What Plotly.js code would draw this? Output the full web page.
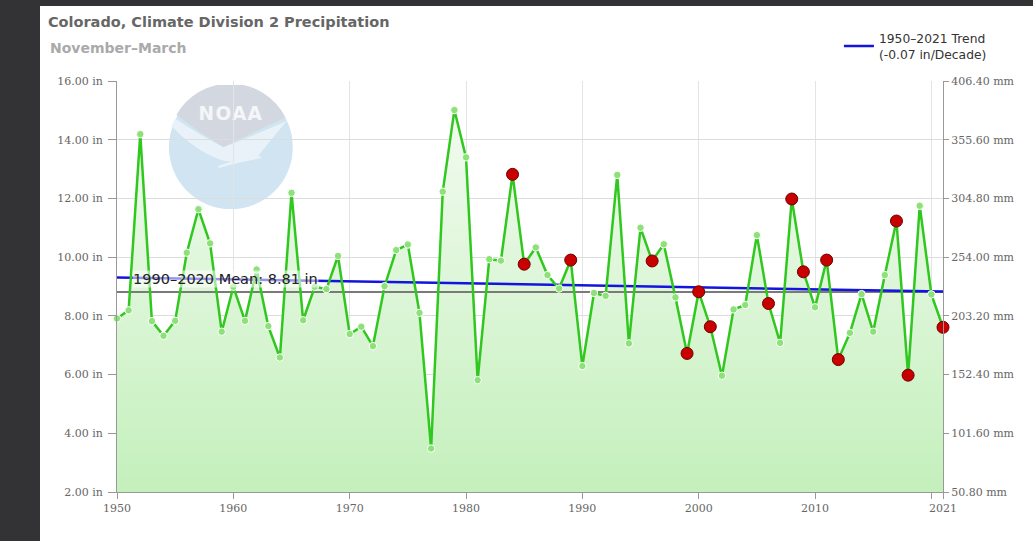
<!DOCTYPE html>
<html>
<head>
<meta charset="utf-8">
<script src="https://cdn.plot.ly/plotly-3.0.1.min.js"></script>
<style>
  html, body { margin: 0; padding: 0; background: #333335; width: 1033px; height: 541px; overflow: hidden; }
  #chart { position: absolute; left: 40px; top: 6px; width: 993px; height: 535px; background: #fff; }
</style>
</head>
<body>
<div id="chart"></div>
<script>
// ---- Data ----
const years = [1950,1951,1952,1953,1954,1955,1956,1957,1958,1959,
               1960,1961,1962,1963,1964,1965,1966,1967,1968,1969,
               1970,1971,1972,1973,1974,1975,1976,1977,1978,1979,
               1980,1981,1982,1983,1984,1985,1986,1987,1988,1989,
               1990,1991,1992,1993,1994,1995,1996,1997,1998,1999,
               2000,2001,2002,2003,2004,2005,2006,2007,2008,2009,
               2010,2011,2012,2013,2014,2015,2016,2017,2018,2019,
               2020,2021];
const precipIn = [7.91,8.19,14.19,7.82,7.32,7.83,10.15,11.63,10.47,7.46,
                  8.99,7.83,9.58,7.65,6.58,12.19,7.85,8.99,8.91,10.04,
                  7.38,7.63,6.97,9.01,10.24,10.43,8.10,3.48,12.23,15.01,
                  13.40,5.81,9.93,9.88,12.82,9.76,10.33,9.39,8.93,9.90,
                  6.29,8.78,8.68,12.80,7.06,11.00,9.87,10.44,8.63,6.72,
                  8.82,7.63,5.96,8.22,8.37,10.75,8.42,7.08,11.98,9.50,
                  8.29,9.90,6.51,7.42,8.74,7.46,9.39,11.23,5.98,11.75,
                  8.73,7.61];
const highlightYears = [1984,1985,1989,1996,1999,2000,2001,2006,2008,2009,2011,2012,2017,2018,2021];
const meanValue = 8.81;
const meanYears = [1950, 2021];
const trendYears = [1950, 2021];
const trendValues = [9.31, 8.83];
const xTickVals = [1950,1960,1970,1980,1990,2000,2010,2020,2021];
const xTickText = ['1950','1960','1970','1980','1990','2000','2010','','2021'];
const yTickVals = [2,4,6,8,10,12,14,16];
const titleText = 'Colorado, Climate Division 2 Precipitation';
const subtitleText = 'November\u2013March';
const trendLabel = '1950\u20132021 Trend<br>(-0.07 in/Decade)';
const meanLabel = '1990\u20132020 Mean: 8.81 in';
const MM_PER_IN = 25.4;

// ---- Derived ----
const hlX = highlightYears;
const hlY = highlightYears.map(y => precipIn[years.indexOf(y)]);
const yTickText = yTickVals.map(v => v.toFixed(2) + ' in');
const mmTickVals = yTickVals.map(v => v * MM_PER_IN);
const mmTickText = mmTickVals.map(v => v.toFixed(2) + ' mm');

const noaaSvg = '<svg xmlns="http://www.w3.org/2000/svg" viewBox="0 0 100 100">' +
  '<circle cx="50" cy="50" r="50" fill="#d0e5f1"/>' +
  '<path d="M6,24 A50,50 0 0 1 94,26 Q70,37 44,50 Q24,38 6,24 Z" fill="#d3d8e0"/>' +
  '<path d="M2,33 Q22,54 44,61 Q60,64 72,57 L95,29 Q70,40 44,50 Q24,40 5,27 Z" fill="#e9f2f8"/>' +
  '<path d="M40,66 Q55,61 74,58" stroke="#e9f2f8" stroke-width="2" fill="none"/>' +
  '<text x="50" y="28" font-family="DejaVu Sans" font-weight="bold" font-size="15" fill="#f4f6f9" text-anchor="middle" letter-spacing="1">NOAA</text>' +
  '</svg>';
const noaaSrc = 'data:image/svg+xml;charset=utf-8,' + encodeURIComponent(noaaSvg);

const traces = [
  { // shaded area under the series
    x: years, y: precipIn, type: 'scatter', mode: 'none',
    fill: 'tozeroy',
    fillgradient: { type: 'vertical', start: 2, stop: 15,
      colorscale: [[0, 'rgb(196,240,188)'], [1, 'rgb(242,251,240)']] },
    hoverinfo: 'skip', showlegend: false
  },
  { // mean line
    x: meanYears, y: [meanValue, meanValue], type: 'scatter', mode: 'lines',
    line: { color: '#7a7a7a', width: 2 }, hoverinfo: 'skip', showlegend: false
  },
  { // trend line
    x: trendYears, y: trendValues, type: 'scatter', mode: 'lines',
    name: trendLabel,
    line: { color: '#1414e0', width: 2.5 }, showlegend: true
  },
  { // main series
    x: years, y: precipIn, type: 'scatter', mode: 'lines+markers',
    line: { color: 'rgb(48,200,30)', width: 2.5 },
    marker: { size: 7.5, color: 'rgb(140,226,120)', line: { color: '#ffffff', width: 1 } },
    cliponaxis: false, showlegend: false
  },
  { // highlighted years
    x: hlX, y: hlY, type: 'scatter', mode: 'markers',
    marker: { size: 12, color: 'rgb(200,0,0)', line: { color: 'rgb(110,0,0)', width: 1 } },
    cliponaxis: false, showlegend: false
  },
  { // mm axis companion (invisible)
    x: years, y: precipIn.map(v => v * MM_PER_IN), type: 'scatter', mode: 'lines',
    yaxis: 'y2', line: { width: 0, color: 'rgba(0,0,0,0)' },
    hoverinfo: 'skip', showlegend: false
  }
];

const tickFont = { family: 'DejaVu Serif', size: 11, color: '#666' };

const layout = {
  width: 993, height: 535,
  margin: { l: 77, r: 90, t: 75, b: 49, pad: 0 },
  paper_bgcolor: '#ffffff', plot_bgcolor: '#ffffff',
  title: {
    text: '<b>' + titleText + '</b>',
    font: { family: 'DejaVu Sans', size: 14.5, color: '#666' },
    xref: 'container', yref: 'container', x: 0.008, xanchor: 'left', y: 0.970, yanchor: 'middle'
  },
  showlegend: true,
  legend: {
    x: 0.874, xanchor: 'left', y: 1.085, yanchor: 'middle',
    font: { family: 'DejaVu Sans', size: 12.3, color: '#333' },
    bgcolor: 'rgba(0,0,0,0)'
  },
  xaxis: {
    range: [1950, 2021], tickmode: 'array', tickvals: xTickVals, ticktext: xTickText,
    showgrid: true, gridcolor: '#e4e4e4', gridwidth: 1, zeroline: false,
    showline: true, linecolor: '#999', linewidth: 1,
    ticks: 'outside', ticklen: 6, tickcolor: '#999', tickfont: tickFont
  },
  yaxis: {
    range: [2, 16], tickmode: 'array', tickvals: yTickVals, ticktext: yTickText,
    showgrid: true, gridcolor: '#dcdcdc', gridwidth: 1, zeroline: false,
    showline: true, linecolor: '#999', linewidth: 1,
    ticks: 'outside', ticklen: 8, tickcolor: '#999', tickfont: tickFont,
    ticklabelstandoff: 3
  },
  yaxis2: {
    overlaying: 'y', side: 'right',
    range: [2 * MM_PER_IN, 16 * MM_PER_IN], tickmode: 'array', tickvals: mmTickVals, ticktext: mmTickText,
    showgrid: false, zeroline: false, showline: true, linecolor: '#999', linewidth: 1,
    ticks: 'outside', ticklen: 5, tickcolor: '#999', tickfont: tickFont
  },
  annotations: [
    {
      text: '<b>' + subtitleText + '</b>', xref: 'paper', yref: 'paper',
      x: -0.0835, xanchor: 'left', y: 1.080, yanchor: 'middle', showarrow: false,
      font: { family: 'DejaVu Sans', size: 14, color: '#aaa' }
    },
    {
      text: meanLabel, xref: 'x', yref: 'y', x: 1951.3, y: meanValue,
      xanchor: 'left', yanchor: 'middle', yshift: 13, showarrow: false,
      bgcolor: 'rgba(255,255,255,0.55)', borderpad: 0,
      font: { family: 'DejaVu Sans', size: 14.5, color: '#222' }
    }
  ],
  images: [
    {
      source: noaaSrc, xref: 'paper', yref: 'paper',
      x: 0.0629, y: 0.990, sizex: 0.150, sizey: 0.302,
      xanchor: 'left', yanchor: 'top', sizing: 'stretch', layer: 'below', opacity: 1
    }
  ]
};

Plotly.newPlot('chart', traces, layout, { displayModeBar: false, staticPlot: true });
</script>
</body>
</html>
